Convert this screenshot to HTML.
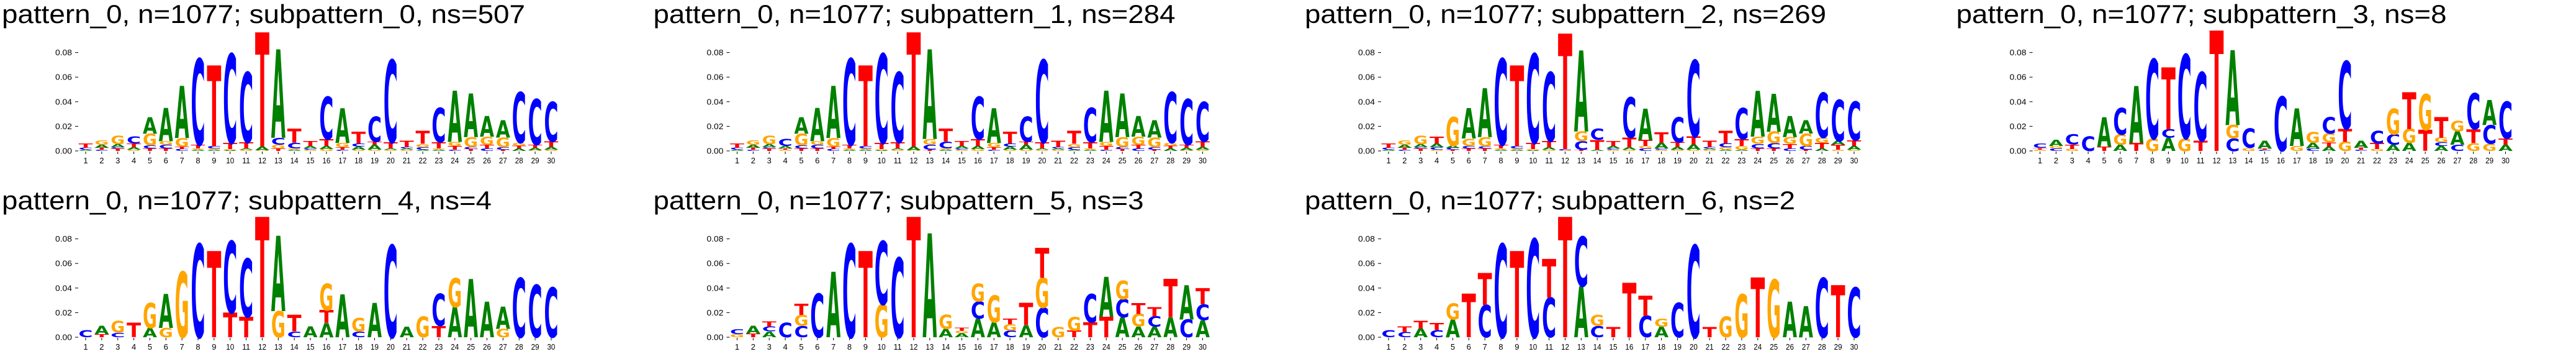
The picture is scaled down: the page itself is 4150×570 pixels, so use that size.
<!DOCTYPE html>
<html><head><meta charset="utf-8"><style>
html,body{margin:0;padding:0;background:#fff;width:4150px;height:570px;overflow:hidden;}
svg{display:block;overflow:hidden;}
</style></head><body>
<svg id="fig" xmlns="http://www.w3.org/2000/svg" width="4150" height="570" viewBox="0 0 4150 570"></svg>
<script>
const titles = [
"pattern_0, n=1077; subpattern_0, ns=507",
"pattern_0, n=1077; subpattern_1, ns=284",
"pattern_0, n=1077; subpattern_2, ns=269",
"pattern_0, n=1077; subpattern_3, ns=8",
"pattern_0, n=1077; subpattern_4, ns=4",
"pattern_0, n=1077; subpattern_5, ns=3",
"pattern_0, n=1077; subpattern_6, ns=2"];
const titleWidths = [843, 841, 840, 790, 789, 790, 790];
const positions = [1,2,3,4,5,6,7,8,9,10,11,12,13,14,15,16,17,18,19,20,21,22,23,24,25,26,27,28,29,30];
const yTicks = [0, 0.02, 0.04, 0.06, 0.08];
const yTickLabels = ["0.00","0.02","0.04","0.06","0.08"];
// stacks bottom->top, values in thousandths
const sub0 = ["A1 C1.5 T3.5","C1 T1.5 A2.5 G3.5","T2 C1 A2.5 G7","G1 A2 T3 C6","T2 C2.5 G9.5 A13.5","T2 C3 G3 A27","C1.5 T2 G6.8 A42.5","A1 G1 T3 C70","A1 G1 C2 T65.6","A0.5 G1 T5 C72.5","G1 A1 T5 C57","G0.5 A3 T93","T2 G3 C5.7 A72","A1 G1 C4.5 T11.5","G1 C1 A2 T4","G1.5 A2.5 T5.5 C34.4","C1 T2 G3.5 A28.3","G1 A2.5 C2.5 T9.5","G1 A4 T2.7 C20.3","G1 A1 T5 C67","G1 A1 C1.2 T5","A1 C2 G2.7 T10.6","A1 G1 T5 C28","C1 T3 G3.4 A41.6","T1.5 C1.7 G7.8 A35.5","C2 T3 G6.6 A16.8","T1 C2 G7.8 A14.2","A2 T2.4 G2.1 C41.2","G0.5 A1.9 T2.6 C37","G1 A2.2 T4.5 C32.3"];
const sub1 = ["A1 C1.5 T3.5","C1 T1.5 A2.5 G3.5","T2 C1 A2.5 G7","G1 T1 A2 C6","T2 C2.5 G9.5 A13.5","T2 C3 G3 A27","C1.5 T2 G6.8 A42.5","A1 G1 T3 C70","A1 G1 C2 T65.6","A0.5 G1 T5 C72.5","G1 A1 T5 C57","G0.5 A3 T93","T1 C4 G4.7 A73","A1 G1 C5.5 T10.5","G1 C1 A2 T4","G1.5 A2.5 T5.5 C34.4","C1 T2 G3.5 A28.3","G1 A2.5 C2.5 T9.5","G1 A4 T2.7 C20.3","G1 A1 T5 C67","G1 A1 C1.2 T5","A1 C2 G2.7 T10.6","A1 G1 T5 C28","C1 T3 G3.4 A41.6","T1.5 C1.7 G7.8 A35.5","C2 T3 G6.6 A16.8","T1 C2 G7.8 A14.2","A2 T2.4 G2.1 C41.2","G0.5 A1.9 T2.6 C37","G1 A2.2 T4.5 C32.3"];
const sub2 = ["A1 C1.5 T3.5","C1 T1.5 A2.5 G3.5","T2 C1 A2.5 G7","G1 C2 A3 T5.6","T1 C1.5 A1.5 G23.5","T2 C2 G6 A24.7","T2 C1.7 G7.3 A39.8","A1 G1 T3 C70","A1 G1 C2 T65.6","A0.5 G1 T5 C72.5","G1 A2 T5 C56","G0.5 C1 T94","T1 C7 G7.8 A66","A1 T8 C9.3","G1 C1 A2 T4","G1 A2 T7.8 C33","C2 G2 T5 A25.3","G1 C1 A4.5 T8.5","G1 A2.2 T3.8 C20.5","G1 A4.2 T6.4 C62.2","G1 A1 C1.2 T5","A1 G2 C3.2 T10.1","A1 G3 T5.6 C25.2","T2 C3.7 G5.9 A37","T2 C4.2 G9.4 A31","C2 T3.7 G5.6 A17.1","T1 C3 G10.1 A10.9","A2 T4.5 G4.3 C36.6","G1 T4 A3.2 C33.6","G1 A3 T4.6 C31.6"];
const sub3 = ["G1 T1.4 C3.6","C2 G2 A5","G1.5 T3.7 C8.2","C11.7","T3.6 A24.1","A5 G8.4 C21.6","T6.6 A46.4","G10 C64.6","A10.8 C6.8 T50.4","G10.3 C68.2","T8.3 C55.7","T98","C10.3 G10.7 A61","G2.4 C15.6","C1 T1 A6.3","C44","G4 A30.5","C2 A4.6 G8.8","A3.6 T3.4 G7.2 C13.5","G7.4 T10.6 C55","C1 T1.5 A5.8","G1.5 T4.8 C10.1","A5 C8.4 G21.1","A6.6 G11.4 T30","T17 G29.4","A4 C3 G3.8 T16.9","C5 A11 G8.4","G6.3 T11.3 C29.3","G5.8 C15.2 A20.3","A5 T5 C30"];
const sub4 = ["C5.9","T2.5 A6.8","C3.7 G9.5","T11.8","A7.6 G20.3","G7.6 A27.6","G53.3","C75.8","T70.2","T20 C58.2","T16.6 C47.4","T98","G21.2 A61.4","C4.7 T13.6","A8.8","A11.5 T10.5 G21.7","A34.7","C4.7 G10.9","A27.9","C74.8","A8.5","G16.9","T9.3 C25.9","A24.5 G23.7","A47.4","A28.8","G6.8 A18.2","C48.2","C42.3","C40.6"];
const sub5 = ["G2.5 C3.9","T3 A6.3","A4.7 C3.8 T4.2","C11.8","C9.3 G9 T9.1","C35.5","A53.3","C75.8","T70.2","G26.7 C51.5","C64.6","T98","A84.6","A6.8 G11.5","A3.4 G2 T2.7","A15.2 C13.9 G14.6","A12.2 G22","C5.4 G5.1 T4.7","A9.8 T18.1","C24 G24.2 T24.2","G8.1","T5.4 G11.2","T12.2 C23","T16.6 A32.4","A16.1 C14.7 G15.2","A8.5 G10.5 T8.9","A8.5 C8.4 T7.6","A16.1 T31.3","C14.4 A27.9","A13.9 C12.8 T13.1"];
const sub6 = ["C5.9","C4.2 T4.6","A7.1 T6.1","C5.9 T5.9","A14.4 G13","T35.5","C26.2 T25.9","C75.8","T70.2","C79.9","C32.1 T31.4","T98","A41.5 C40.6","C9.3 G9","T8.1","T44.3","C17.3 T16.5","A8.5 G6.7","C27.9","C74.8","T8.1","G16.9","G35.2","T48.7","G47","A28.8","A25.4","C48.2","T42.3","C40.6"];

const panels = [sub0, sub1, sub2, sub3, sub4, sub5, sub6];
const colors = {A:"#008000", C:"#0000ff", G:"#ffa500", T:"#ff0000"};
const NS = "http://www.w3.org/2000/svg";
const svg = document.getElementById("fig");
const PANEL_DX = 1049.5, X0 = 138, STEP = 25.86, LW = 23, PPU = 1.98;
function mk(tag, attrs, parent){ const e=document.createElementNS(NS,tag); for(const k in attrs) e.setAttribute(k, attrs[k]); parent.appendChild(e); return e; }

panels.forEach((data, p) => {
  const col = p < 4 ? p : p - 4;
  const row = p < 4 ? 0 : 1;
  const ox = col * PANEL_DX;
  const y0 = row === 0 ? 243 : 543;
  const tb = row === 0 ? 37 : 337;
  const xs = i => ox + X0 + i * STEP;
  const ys = v => y0 - v * 1000 * PPU;
  const g = mk("g", {}, svg);
  
  
  const t = mk("text", {x: ox + 3, y: tb, "font-family": "Liberation Sans, sans-serif", "font-size": 42, textLength: titleWidths[p], lengthAdjust: "spacingAndGlyphs", fill: "#000"}, g);
  t.textContent = titles[p];
  
  
  yTicks.forEach((v, k) => {
    const yy = ys(v);
    const tk = mk("line", {x1: ox + 121, x2: ox + 126, y1: yy, y2: yy, stroke: "#000", "stroke-width": 1}, g);
    
    
    const lb = mk("text", {x: ox + 116, y: yy + 4.5, "text-anchor": "end", "font-family": "Liberation Sans, sans-serif", "font-size": 12.5, textLength: 27, lengthAdjust: "spacingAndGlyphs", fill: "#000"}, g);
    lb.textContent = yTickLabels[k];
    
    
  });
  positions.forEach((pos, i) => {
    const xx = xs(i);
    const tk = mk("line", {x1: xx, x2: xx, y1: y0 + 1, y2: y0 + 5, stroke: "#000", "stroke-width": 1}, g);
    
    
    const lb = mk("text", {x: xx, y: y0 + 20, "text-anchor": "middle", "font-family": "Liberation Sans, sans-serif", "font-size": 13, fill: "#000"}, g);
    if (pos >= 10) { lb.setAttribute("textLength", 13); lb.setAttribute("lengthAdjust", "spacingAndGlyphs"); }
    lb.textContent = pos;
    
    
  });
  data.forEach((stack, i) => {
    let cum = 0;
    stack.split(" ").forEach(tok => {
      const L = tok[0], v = parseFloat(tok.slice(1)) / 1000;
      const yb = ys(cum), yt = ys(cum + v);
      const h = yb - yt;
      cum += v;
      if (h <= 0.2) return;
      const xl = xs(i) - LW / 2;
      const el = mk("text", {x: 0, y: 0, "font-family": "DejaVu Sans, sans-serif", "font-weight": "bold", "font-size": 100, textLength: 80, lengthAdjust: "spacingAndGlyphs", fill: colors[L], transform: `translate(${xl},${yb}) scale(${LW/80},${h/73})`}, g);
      el.textContent = L;
      
      
    });
  });
});
</script>
</body></html>
